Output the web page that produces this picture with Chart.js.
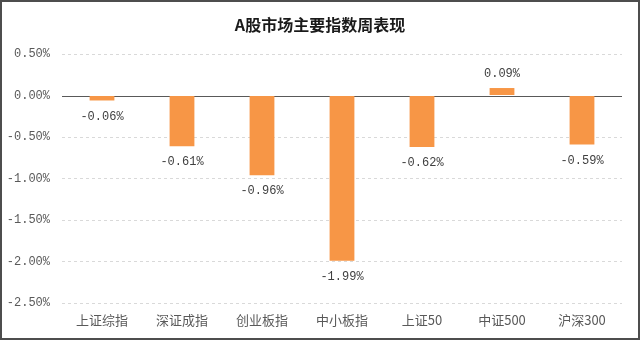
<!DOCTYPE html>
<html>
<head>
<meta charset="utf-8">
<title>A股市场主要指数周表现</title>
<script src="https://cdn.jsdelivr.net/npm/chart.js@4.4.1/dist/chart.umd.min.js"></script>
<style>
  html, body { margin: 0; padding: 0; background: #fff; }
  #wrap { position: relative; width: 640px; height: 340px; }
</style>
</head>
<body>
<div id="wrap"><canvas id="weekChart" width="640" height="340"></canvas></div>
<script>
// weekly change of the main A-share indices, in percent
const indexNames = ['上证综指', '深证成指', '创业板指', '中小板指', '上证50', '中证500', '沪深300'];
const weekChange = [-0.06, -0.61, -0.96, -1.99, -0.62, 0.09, -0.59];
const yTicks = [0.5, 0, -0.5, -1, -1.5, -2, -2.5];

const titleText = 'A股市场主要指数周表现';
const cjkFont = '"Noto Sans CJK SC", "Noto Sans", sans-serif';
const numFont = '"Liberation Mono", "DejaVu Sans Mono", monospace';

function pct(v) {
  return v.toFixed(2) + '%';
}

// frame + title + zero line + value labels
const decorations = {
  id: 'decorations',
  beforeDatasetsDraw(chart) {
    const { ctx, chartArea, scales } = chart;
    const y0 = Math.round(scales.y.getPixelForValue(0)) + 0.5;
    ctx.save();
    ctx.strokeStyle = '#595959';
    ctx.lineWidth = 1;
    ctx.beginPath();
    ctx.moveTo(chartArea.left, y0);
    ctx.lineTo(chartArea.right, y0);
    ctx.stroke();
    ctx.restore();
  },
  afterDatasetsDraw(chart) {
    const { ctx } = chart;
    const meta = chart.getDatasetMeta(0);
    ctx.save();
    ctx.font = '12px ' + numFont;
    ctx.fillStyle = '#404040';
    ctx.textAlign = 'center';
    ctx.textBaseline = 'middle';
    meta.data.forEach((bar, i) => {
      const v = weekChange[i];
      const y = v < 0 ? bar.y + 16 : bar.y - 14;
      ctx.fillText(pct(v), bar.x, y);
    });
    ctx.restore();
  },
  afterDraw(chart) {
    const { ctx, width, height } = chart;
    ctx.save();
    ctx.font = 'bold 16px ' + cjkFont;
    ctx.fillStyle = '#1a1a1a';
    ctx.textAlign = 'center';
    ctx.textBaseline = 'middle';
    ctx.fillText(titleText, width / 2, 25);
    ctx.strokeStyle = '#4d4d4d';
    ctx.lineWidth = 2;
    ctx.strokeRect(1, 1, width - 2, height - 2);
    ctx.restore();
  }
};

new Chart(document.getElementById('weekChart'), {
  type: 'bar',
  data: {
    labels: indexNames,
    datasets: [{
      data: weekChange,
      backgroundColor: '#F79646',
      barPercentage: 0.31,
      categoryPercentage: 1
    }]
  },
  options: {
    responsive: false,
    animation: false,
    layout: { padding: { top: 54, right: 18, bottom: 0, left: 0 } },
    plugins: {
      legend: { display: false },
      title: { display: false },
      tooltip: { enabled: false }
    },
    scales: {
      x: {
        grid: { display: false, drawTicks: false },
        border: { display: false },
        ticks: {
          color: '#595959',
          font: { family: cjkFont, size: 13 },
          padding: 9,
          maxRotation: 0
        },
        afterFit(scale) { scale.height = 37; }
      },
      y: {
        min: -2.5,
        max: 0.5,
        afterBuildTicks(scale) {
          scale.ticks = yTicks.map(v => ({ value: v }));
        },
        grid: {
          drawTicks: false,
          color: ctx => (ctx.tick && ctx.tick.value === 0 ? 'rgba(0,0,0,0)' : '#d9d9d9')
        },
        border: { display: false, dash: [3, 3] },
        ticks: {
          color: '#595959',
          font: { family: numFont, size: 12 },
          padding: 12,
          callback: v => pct(v)
        },
        afterFit(scale) { scale.width = 62; }
      }
    }
  },
  plugins: [decorations]
});
</script>
</body>
</html>
